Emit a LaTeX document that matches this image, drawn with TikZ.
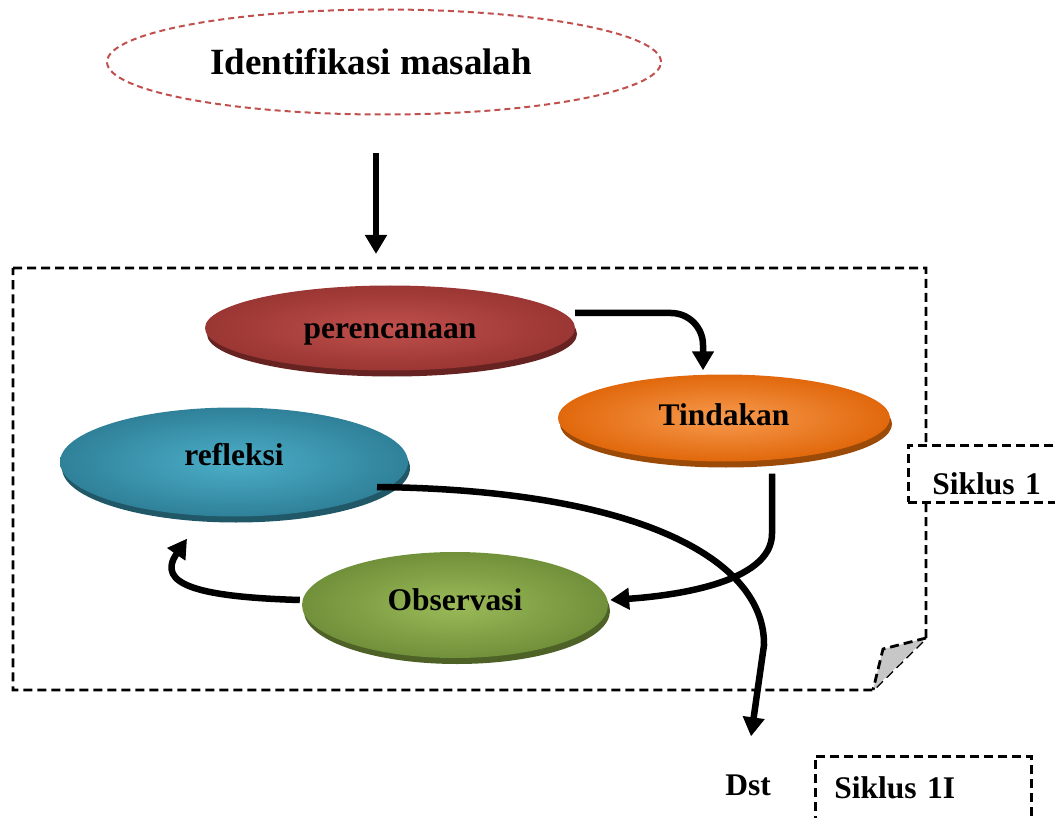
\documentclass[tikz,border=0pt]{standalone}
\usepackage{fontspec}
\setmainfont{Liberation Serif}
\usepackage{xcolor}
\usetikzlibrary{positioning,shapes.geometric,arrows.meta,shadows,calc}

\definecolor{planred}{HTML}{C0504D}
\definecolor{planredd}{HTML}{9A3633}
\definecolor{planreds}{HTML}{662321}
\definecolor{actorange}{HTML}{F79A4E}
\definecolor{actoranged}{HTML}{E1680C}
\definecolor{actoranges}{HTML}{9C4A08}
\definecolor{reflblue}{HTML}{4CAEC8}
\definecolor{reflblued}{HTML}{2F8199}
\definecolor{reflblues}{HTML}{205868}
\definecolor{obsgreen}{HTML}{9BBB59}
\definecolor{obsgreend}{HTML}{71903A}
\definecolor{obsgreens}{HTML}{4E6228}

\begin{document}
\begin{tikzpicture}[x=1pt,y=-1pt,
    bigfont/.style={font=\fontsize{31.5}{36}\selectfont\bfseries},
    phase/.style n args={3}{ellipse, inner sep=0pt, bigfont, text height=21pt,
        inner color=#1, outer color=#2,
        drop shadow={shadow xshift=2pt, shadow yshift=-6pt, opacity=1, fill=#3}},
    flow/.style={line width=6.5pt, -{Triangle[length=19pt,width=21pt]}},
    cycleline/.style={line width=2.8pt, dash pattern=on 9pt off 5pt},
    cyclebox/.style={draw, cycleline, fill=white, bigfont, anchor=north west,
        inner sep=0pt, align=left},
    lbl/.style={bigfont, inner sep=2pt}]
    \path[use as bounding box, clip] (0,0) rectangle (1055,818);

    % problem
    \node[ellipse, draw=planred, line width=2pt, dash pattern=on 6pt off 4pt,
        minimum width=554pt, minimum height=105pt,
        font=\fontsize{37}{42}\selectfont\bfseries] (ident) at (384,62)
        {Identifikasi masalah\hspace*{26pt}};
    \coordinate (entry) at (376,254);

    % cycle frame with folded corner
    \draw[cycleline] (13,268) -- (926,268) -- (926,638) -- (873,690) -- (13,690) -- cycle;
    \filldraw[cycleline, fill=black!22] (926,638) -- (883,649) -- (873,690);

    \node[cyclebox, inner xsep=24pt, text width=150pt, text height=49pt, text depth=8pt]
        (cycleone) at (907,444) {Siklus 1};
    \node[cyclebox, inner xsep=19pt, text width=178pt, text height=42pt, text depth=40pt]
        (cycletwo) at (814,755) {Siklus 1I};
    \node[lbl] (dst) at (748,785) {Dst};

    % phases
    \node[phase={planred}{planredd}{planreds}, minimum width=370pt, minimum height=85pt,
        text depth=1pt] (plan) at (390,328) {perencanaan};
    \node[phase={actorange}{actoranged}{actoranges}, minimum width=332pt, minimum height=87pt,
        text depth=7pt] (act) at (724,418) {Tindakan};
    \node[phase={reflblue}{reflblued}{reflblues}, minimum width=348pt, minimum height=109pt,
        text depth=15pt] (reflect) at (234,462) {refleksi};
    \node[phase={obsgreen}{obsgreend}{obsgreens}, minimum width=306pt, minimum height=106pt,
        text depth=11pt] (observe) at (455,605) {Observasi};

    % arrows
    \draw[flow] ([xshift=-8pt,yshift=-38pt]ident.south) -- (entry);
    \draw[flow, rounded corners=32pt] ([yshift=15pt]plan.east) -| ([xshift=-21pt,yshift=4pt]act.north);
    \draw[flow] ([xshift=48pt,yshift=-12pt]act.south) -- ++(0,60) .. controls +(0,50) and +(60,-4)
        .. ([xshift=2pt,yshift=5pt]observe.east);
    \draw[flow] ([xshift=-2pt,yshift=5pt]observe.west) .. controls (200,597) and (155,585)
        .. ([xshift=-47pt,yshift=-22pt]reflect.south);
    \draw[flow] ($(reflect.center)+(143,25)$) .. controls (640,490) and (765,560) .. (764,645)
        -- ([xshift=3pt,yshift=36pt]dst.north);
\end{tikzpicture}
\end{document}
